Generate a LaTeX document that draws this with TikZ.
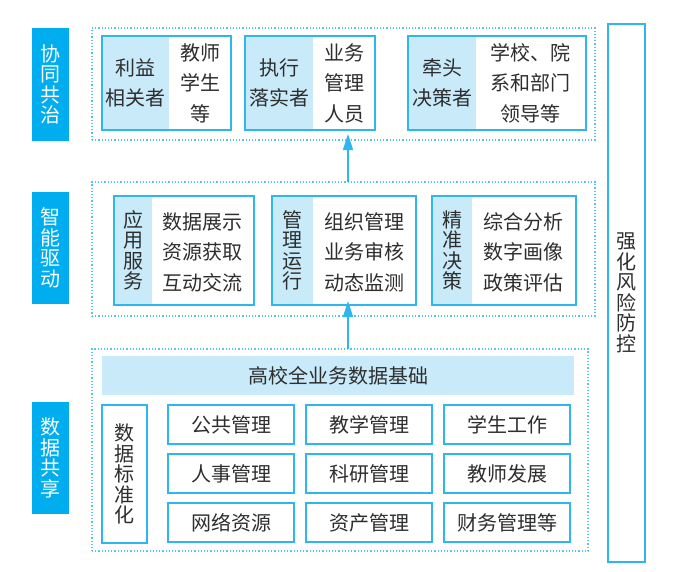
\documentclass[tikz,border=0pt]{standalone}
\usepackage{fontspec}
\newfontfamily\cjk{Noto Sans CJK SC}
\usetikzlibrary{arrows.meta}
\definecolor{deepblue}{HTML}{00AEEF}
\definecolor{lightblue}{HTML}{C8EAF9}
\definecolor{edgeblue}{HTML}{2DB7EE}
\definecolor{dotblue}{HTML}{55C4F0}
\definecolor{txt}{HTML}{2E2E2E}
\begin{document}
\begin{tikzpicture}[x=1pt,y=-1pt,
  every node/.style={inner sep=0pt,outer sep=0pt,text=txt},
  tag/.style={fill=deepblue,text=white,anchor=north west,font=\cjk\fontsize{20}{20.5}\selectfont,align=center},
  frame/.style={draw=dotblue,dotted,line width=1.2pt,anchor=north west},
  cell/.style={draw=edgeblue,line width=1.8pt,anchor=north west},
  leftfill/.style={fill=lightblue,anchor=north west},
  vtext/.style={font=\cjk\fontsize{20}{20.5}\selectfont,align=center},
  htext/.style={font=\cjk\fontsize{20}{30.5}\selectfont,align=center},
  up/.style={draw=edgeblue,line width=1.6pt,-{Triangle[length=16pt,width=10pt]}}
]
\useasboundingbox (0,0) rectangle (692,571);
\fill[white] (0,0) rectangle (692,571);

% left tags
\node[tag,minimum width=37pt,minimum height=113pt] (tagA) at (32,28) {};
\node[vtext,text=white] at (tagA.center) {协\\同\\共\\治};
\node[tag,minimum width=37pt,minimum height=112pt] (tagB) at (32,192) {};
\node[vtext,text=white] at (tagB.center) {智\\能\\驱\\动};
\node[tag,minimum width=37pt,minimum height=112pt] (tagC) at (32,402) {};
\node[vtext,text=white] at (tagC.center) {数\\据\\共\\享};

% frames
\node[frame,minimum width=503pt,minimum height=112pt] (frA) at (92,28) {};
\node[frame,minimum width=503pt,minimum height=134pt] (frB) at (92,182) {};
\node[frame,minimum width=496pt,minimum height=202pt] (frC) at (92,349) {};

% right tall box
\node[cell,minimum width=37pt,minimum height=538pt] (risk) at (608,24) {};
\node[vtext] at (risk.center) {强\\化\\风\\险\\防\\控};

% top row
\node[leftfill,minimum width=67pt,minimum height=94pt] (a1l) at (102,36) {};
\node[htext] at (a1l.center) {利益\\相关者};
\node[htext] (a1r) at (200,83) {教师\\学生\\等};
\node[cell,minimum width=129pt,minimum height=94pt] (a1) at (102,36) {};

\node[leftfill,minimum width=68pt,minimum height=94pt] (a2l) at (245,36) {};
\node[htext] at (a2l.center) {执行\\落实者};
\node[htext] (a2r) at (344,83) {业务\\管理\\人员};
\node[cell,minimum width=130pt,minimum height=94pt] (a2) at (245,36) {};

\node[leftfill,minimum width=68pt,minimum height=94pt] (a3l) at (408,36) {};
\node[htext] at (a3l.center) {牵头\\决策者};
\node[htext] (a3r) at (530,83) {学校、院\\系和部门\\领导等};
\node[cell,minimum width=178pt,minimum height=94pt] (a3) at (408,36) {};

% middle row
\node[leftfill,minimum width=38pt,minimum height=109pt] (b1l) at (114,196) {};
\node[vtext] at (b1l.center) {应\\用\\服\\务};
\node[htext] (b1r) at (202,252) {数据展示\\资源获取\\互动交流};
\node[cell,minimum width=140pt,minimum height=109pt] (b1) at (114,196) {};

\node[leftfill,minimum width=41pt,minimum height=109pt] (b2l) at (272,196) {};
\node[vtext] at (b2l.center) {管\\理\\运\\行};
\node[htext] (b2r) at (364,252) {组织管理\\业务审核\\动态监测};
\node[cell,minimum width=144pt,minimum height=109pt] (b2) at (272,196) {};

\node[leftfill,minimum width=40pt,minimum height=109pt] (b3l) at (432,196) {};
\node[vtext] at (b3l.center) {精\\准\\决\\策};
\node[htext] (b3r) at (523,252) {综合分析\\数字画像\\政策评估};
\node[cell,minimum width=144pt,minimum height=109pt] (b3) at (432,196) {};

% bottom
\node[leftfill,minimum width=472pt,minimum height=39pt] (base) at (102,356) {};
\node[htext] at (base.center) {高校全业务数据基础};
\node[cell,minimum width=45pt,minimum height=138pt] (std) at (102,405) {};
\node[vtext] at (std.center) {数\\据\\标\\准\\化};

\foreach \nm/\xx/\yy/\tt in {c11/168/405/公共管理, c12/306/405/教学管理, c13/444/405/学生工作,
  c21/168/454/人事管理, c22/306/454/科研管理, c23/444/454/教师发展,
  c31/168/503/网络资源, c32/306/503/资产管理, c33/444/503/财务管理等}{
  \node[cell,minimum width=126pt,minimum height=39pt] (\nm) at (\xx,\yy) {};
  \node[htext] at (\nm.center) {\tt};
}

% arrows
\coordinate (tipA) at (348,134);
\coordinate (tipB) at (348,301);
\draw[up] (frB.north -| tipA) -- (tipA);
\draw[up] (frC.north -| tipB) -- (tipB);
\end{tikzpicture}
\end{document}
